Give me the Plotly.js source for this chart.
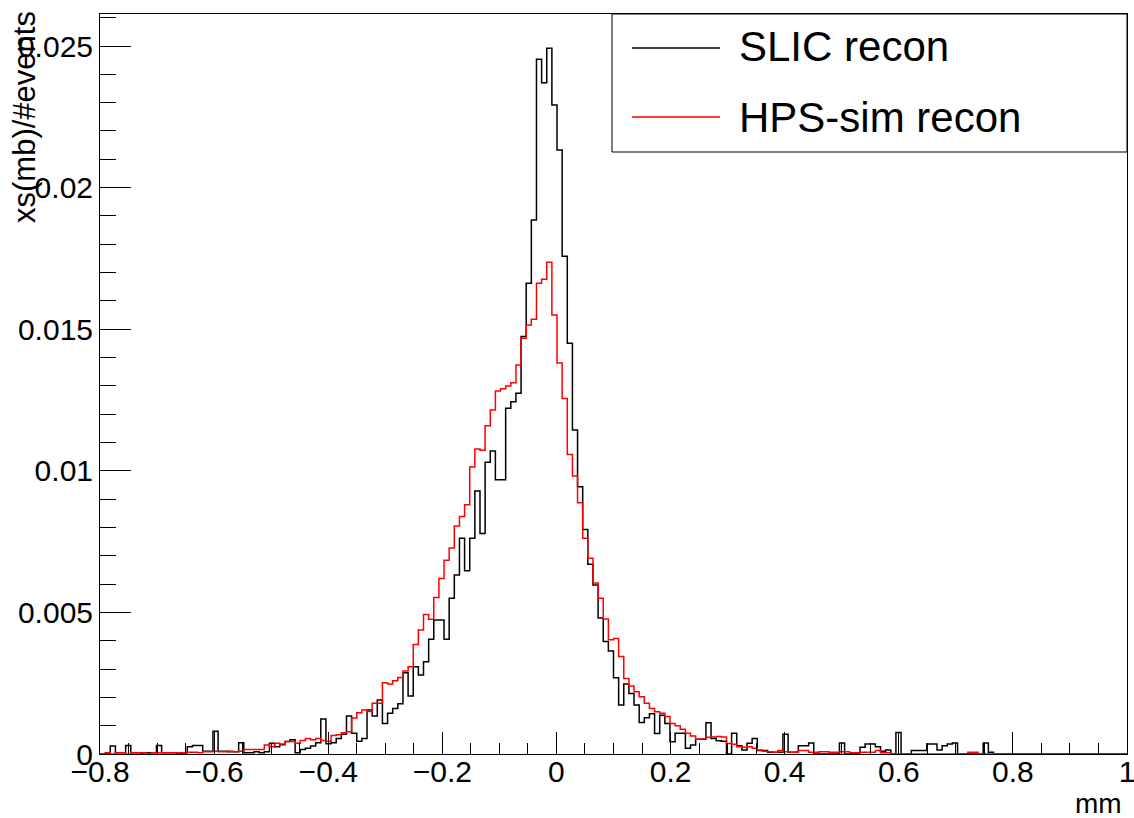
<!DOCTYPE html>
<html>
<head>
<meta charset="utf-8">
<script src="https://cdn.plot.ly/plotly-3.0.1.min.js"></script>
<style>
  html, body { margin: 0; padding: 0; background: #fff; }
  #chart { width: 1134px; height: 818px; }
</style>
</head>
<body>
<div id="chart"></div>
<script>
// Histogram binning (200 bins from -0.8 to 1.0 mm)
const nBins = 200;
const xMin = -0.8;
const xMax = 1.0;

const seriesNames = ["SLIC recon", "HPS-sim recon"];
const xTitle = "mm";
const yTitle = "xs(mb)/#events";

// SLIC recon bin contents (bin 0 .. 199)
const slicValues = [
  0, 0, 0.00028, 0.00004, 0.00004, 0.0003, 0.00004, 0.00004, 0, 0.00004,
  0.00004, 0.0003, 0.00004, 0.00004, 0.00004, 0, 0.00004, 0.00026, 0.0003, 0.0003,
  0.0001, 0.0001, 0.0008, 0.0001, 0.0001, 0.00008, 0.00008, 0.0004, 0.00004, 0.00004,
  0.00008, 0.00004, 0.00008, 0.00038, 0.00026, 0.00034, 0.00044, 0.0005, 0.00004, 0.00016,
  0.0002, 0.00028, 0.0004, 0.00124, 0.00036, 0.0004, 0.00055, 0.0007, 0.00134, 0.00073,
  0.00045, 0.00055, 0.00155, 0.00134, 0.00191, 0.00108, 0.00144, 0.00161, 0.00177, 0.00287,
  0.00205, 0.00308, 0.00279, 0.00326, 0.00405, 0.00473, 0.00473, 0.00405, 0.0055, 0.00632,
  0.00762, 0.00647, 0.00762, 0.00929, 0.00779, 0.0103, 0.0107, 0.00968, 0.00968, 0.01221,
  0.01244, 0.01274, 0.01474, 0.01662, 0.01886, 0.02453, 0.0237, 0.02492, 0.02292, 0.02133,
  0.01758, 0.0145, 0.01144, 0.00944, 0.00793, 0.0067, 0.00597, 0.0048, 0.00397, 0.00364,
  0.00269, 0.00173, 0.00247, 0.00214, 0.00173, 0.00111, 0.00128, 0.00142, 0.00072, 0.00137,
  0.00108, 0.00043, 0.00073, 0.00073, 0.0002, 0.00032, 0.00052, 0.00052, 0.0011, 0.00055,
  0.00047, 0.00045, 0, 0.00073, 0.00029, 0.00014, 0.00038, 0.00055, 0.00012, 0.00012,
  0.00006, 0.00006, 0.00006, 0.0007, 0.00006, 0.00006, 0.00029, 0.00029, 0.00039, 0,
  0, 0, 0, 0, 0.00039, 0, 0, 0, 0.00024, 0.00035,
  0.00035, 0.00026, 0.0001, 0.00014, 0, 0.00076, 0, 0, 0.00012, 0.00012,
  0.00012, 0.00035, 0.00035, 0.00014, 0.00029, 0.00035, 0.00039, 0, 0, 0,
  0, 0, 0.00039, 0.00006, 0, 0, 0, 0, 0, 0,
  0, 0, 0, 0, 0, 0, 0, 0, 0, 0,
  0, 0, 0, 0, 0, 0, 0, 0, 0, 0
];

// HPS-sim recon bin contents (bin 0 .. 199)
const hpsValues = [
  0, 0.00004, 0, 0.00004, 0.00004, 0, 0.00004, 0.00004, 0.00004, 0,
  0.00004, 0.00004, 0.00004, 0.00004, 0.00004, 0.00004, 0.00004, 0.00006, 0.00006, 0.00004,
  0.00008, 0.00008, 0.0001, 0.00008, 0.00008, 0.0001, 0.00008, 0.0001, 0.00016, 0.00016,
  0.00016, 0.00016, 0.00032, 0.00026, 0.00038, 0.00032, 0.00044, 0.00044, 0.00038, 0.00048,
  0.00055, 0.0005, 0.00055, 0.00048, 0.00045, 0.00065, 0.00068, 0.00075, 0.00079, 0.00127,
  0.00146, 0.00155, 0.0015, 0.00179, 0.00179, 0.00252, 0.00247, 0.00259, 0.0027, 0.00293,
  0.00308, 0.00387, 0.00438, 0.00493, 0.00476, 0.00553, 0.0062, 0.00684, 0.00727, 0.00805,
  0.00839, 0.0088, 0.01013, 0.01077, 0.01073, 0.01159, 0.01215, 0.01282, 0.0129, 0.01299,
  0.01311, 0.01374, 0.01468, 0.01515, 0.01535, 0.01662, 0.01676, 0.01736, 0.0155, 0.01381,
  0.01255, 0.01058, 0.00982, 0.00887, 0.00762, 0.00691, 0.00604, 0.0055, 0.00477, 0.00403,
  0.00408, 0.00344, 0.00267, 0.0024, 0.0022, 0.00202, 0.00179, 0.00161, 0.00149, 0.00144,
  0.00132, 0.00108, 0.001, 0.00087, 0.00073, 0.00064, 0.00052, 0.00053, 0.00059, 0.0006,
  0.00062, 0.0006, 0.00037, 0.00034, 0.00026, 0.00024, 0.00026, 0.0002, 0.00014, 0.0001,
  0.00008, 0.00006, 0.00012, 0.00008, 0.00006, 0.00006, 0.00012, 0.00012, 0.00006, 0.00006,
  0.00008, 0.00008, 0.00006, 0.00006, 0.00008, 0.00008, 0.00004, 0.00004, 0.00006, 0.00006,
  0.00006, 0.00012, 0.00004, 0.00004, 0, 0, 0, 0, 0, 0,
  0, 0, 0, 0, 0, 0, 0, 0, 0, 0.00006,
  0.00006, 0, 0, 0, 0, 0, 0, 0, 0, 0,
  0, 0, 0, 0, 0, 0, 0, 0, 0, 0,
  0, 0, 0, 0, 0, 0, 0, 0, 0, 0
];

const binWidth = (xMax - xMin) / nBins;

function stepTrace(values, name, color) {
  const xs = [];
  const ys = [];
  for (let i = 0; i <= values.length; i++) {
    xs.push(xMin + i * binWidth);
    ys.push(i < values.length ? values[i] : values[values.length - 1]);
  }
  return {
    type: 'scatter',
    mode: 'lines',
    name: name,
    x: xs,
    y: ys,
    line: { shape: 'hv', color: color, width: 1.5 },
    hoverinfo: 'x+y+name'
  };
}

const traces = [
  stepTrace(slicValues, seriesNames[0], '#000000'),
  stepTrace(hpsValues, seriesNames[1], '#ff0000')
];

// plot area in pixels: x 100..1127, y 14..754
const L = 100, R = 1127, T = 14, B = 754;
const px = v => (v - L) / (R - L);
const py = v => (B - v) / (B - T);

const layout = {
  width: 1134,
  height: 818,
  margin: { l: L, r: 1134 - R, t: T, b: 818 - B, pad: 0 },
  paper_bgcolor: '#ffffff',
  plot_bgcolor: '#ffffff',
  showlegend: false,
  font: { family: '"Liberation Sans", Arial, sans-serif', color: '#000000', size: 30 },
  xaxis: {
    range: [xMin, xMax + 1e-6],
    tick0: 0,
    dtick: 0.2,
    ticks: 'inside',
    ticklen: 22,
    tickwidth: 1,
    tickcolor: '#000000',
    showgrid: false,
    zeroline: false,
    showline: true,
    linecolor: '#000000',
    linewidth: 1,
    mirror: true,
    tickfont: { size: 30, color: '#000000' },
    ticklabelstandoff: -9,
    ticklabeloverflow: 'allow',
    minor: { dtick: 0.05, tick0: 0, ticks: 'inside', ticklen: 11, tickcolor: '#000000', tickwidth: 1, showgrid: false }
  },
  yaxis: {
    range: [0, 0.02613],
    tick0: 0,
    dtick: 0.005,
    ticks: 'inside',
    ticklen: 31,
    tickwidth: 1,
    tickcolor: '#000000',
    showgrid: false,
    zeroline: false,
    showline: true,
    linecolor: '#000000',
    linewidth: 1,
    mirror: true,
    tickfont: { size: 30, color: '#000000' },
    ticklabelstandoff: 0,
    ticklabeloverflow: 'allow',
    minor: { dtick: 0.001, tick0: 0, ticks: 'inside', ticklen: 16, tickcolor: '#000000', tickwidth: 1, showgrid: false }
  },
  shapes: [
    { type: 'rect', xref: 'paper', yref: 'paper', x0: px(612), x1: 1, y0: py(152), y1: 1,
      line: { color: '#000000', width: 1 }, fillcolor: '#ffffff', layer: 'above' },
    { type: 'line', xref: 'paper', yref: 'paper', x0: px(632), x1: px(720), y0: py(48), y1: py(48),
      line: { color: '#000000', width: 1.5 } },
    { type: 'line', xref: 'paper', yref: 'paper', x0: px(632), x1: px(720), y0: py(117), y1: py(117),
      line: { color: '#ff0000', width: 1.5 } }
  ],
  annotations: [
    { text: seriesNames[0], xref: 'paper', yref: 'paper', x: px(737), y: py(47), xanchor: 'left', yanchor: 'middle',
      showarrow: false, font: { size: 42, color: '#000000' } },
    { text: seriesNames[1], xref: 'paper', yref: 'paper', x: px(737), y: py(117), xanchor: 'left', yanchor: 'middle',
      showarrow: false, font: { size: 42, color: '#000000' } },
    { text: yTitle, xref: 'paper', yref: 'paper', x: px(25), y: py(9), xanchor: 'center', yanchor: 'top',
      textangle: -90, showarrow: false, font: { size: 31, color: '#000000' } },
    { text: xTitle, xref: 'paper', yref: 'paper', x: px(1124), y: py(803), xanchor: 'right', yanchor: 'middle',
      showarrow: false, font: { size: 28, color: '#000000' } }
  ]
};

Plotly.newPlot('chart', traces, layout, { displayModeBar: false, staticPlot: true });
</script>
</body>
</html>
